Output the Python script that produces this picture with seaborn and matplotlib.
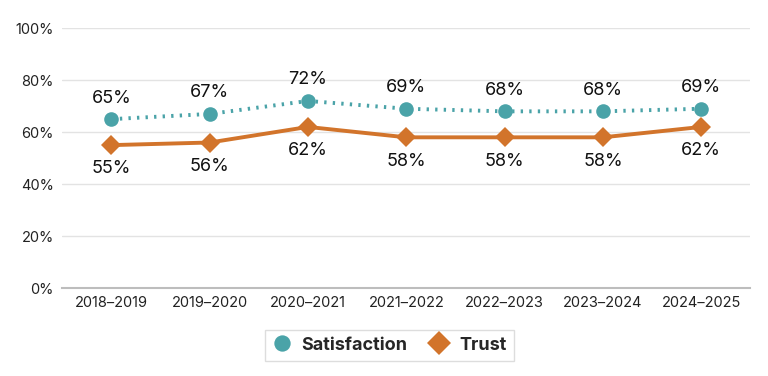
import pandas as pd
import matplotlib.pyplot as plt
import seaborn as sns
from matplotlib.ticker import PercentFormatter

years = ["2018\u20132019", "2019\u20132020", "2020\u20132021", "2021\u20132022",
         "2022\u20132023", "2023\u20132024", "2024\u20132025"]
satisfaction = [65, 67, 72, 69, 68, 68, 69]
trust = [55, 56, 62, 58, 58, 58, 62]

TEAL = "#4AA3A8"
ORANGE = "#D2742B"

df = pd.DataFrame({"year": years * 2,
                   "value": satisfaction + trust,
                   "series": ["Satisfaction"] * len(years) + ["Trust"] * len(years)})

sns.set_theme(style="white")
plt.rcParams["font.family"] = ["Inter", "DejaVu Sans"]

fig, ax = plt.subplots(figsize=(7.68, 3.76), dpi=100)
fig.subplots_adjust(left=0.081, right=0.977, top=0.925, bottom=0.234)

sns.lineplot(data=df, x="year", y="value", hue="series", style="series",
             markers={"Satisfaction": "o", "Trust": "D"},
             dashes={"Satisfaction": (0.6, 1.6), "Trust": ""},
             palette={"Satisfaction": TEAL, "Trust": ORANGE},
             markersize=10.5, linewidth=2.8, markeredgewidth=0, ax=ax, sort=False)

for i, (s, t) in enumerate(zip(satisfaction, trust)):
    ax.annotate(f"{s}%", (i, s), xytext=(0, 9), textcoords="offset points",
                ha="center", va="bottom", fontsize=13, color="#111111")
    ax.annotate(f"{t}%", (i, t), xytext=(0, -11), textcoords="offset points",
                ha="center", va="top", fontsize=13, color="#111111")

ax.set_ylim(0, 100)
ax.set_xlim(-0.5, len(years) - 0.5)
ax.set_yticks(range(0, 101, 20))
ax.yaxis.set_major_formatter(PercentFormatter(decimals=0))
ax.grid(axis="y", color="#e3e3e3", linewidth=1)
ax.set_axisbelow(True)
for side in ["top", "right", "left"]:
    ax.spines[side].set_visible(False)
ax.spines["bottom"].set_color("#bdbdbd")
ax.spines["bottom"].set_linewidth(1.5)
ax.tick_params(axis="both", length=0, labelsize=10.5, colors="#222222", pad=6)
ax.set_xlabel("")
ax.set_ylabel("")

handles, labels = ax.get_legend_handles_labels()
leg = ax.legend(handles, labels, loc="upper center", bbox_to_anchor=(0.475, -0.125),
                ncol=2, frameon=True, fancybox=False, handlelength=1.1,
                columnspacing=1.2, handletextpad=0.55, markerscale=1.12,
                borderpad=0.4, prop={"weight": "bold", "size": 13})
leg.get_frame().set_edgecolor("#d5d5d5")
leg.get_frame().set_linewidth(1)
for h in leg.legend_handles:
    h.set_linestyle("")

plt.savefig("out.png", dpi=100)
